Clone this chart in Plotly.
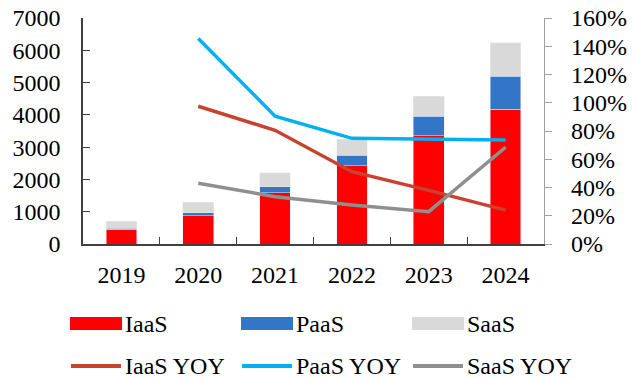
import plotly.graph_objects as go

years = ["2019", "2020", "2021", "2022", "2023", "2024"]
iaas = [450, 870, 1590, 2425, 3350, 4180]
paas = [40, 100, 185, 320, 600, 1020]
saas = [220, 330, 425, 495, 620, 1030]
iaas_yoy = [None, 0.975, 0.805, 0.512, 0.38, 0.24]
paas_yoy = [None, 1.455, 0.905, 0.748, 0.745, 0.736]
saas_yoy = [None, 0.43, 0.335, 0.276, 0.229, 0.685]

bar_names = ["IaaS", "PaaS", "SaaS"]
line_names = ["IaaS YOY", "PaaS YOY", "SaaS YOY"]
bar_colors = ["#FF0000", "#3375C6", "#D9D9D9"]
line_colors = ["#C8432F", "#00B0F0", "#8F8F8F"]

FONT = "Liberation Serif"
FS = 24
W, H = 632, 378
L, R, T, B = 83, 544, 18, 244  # plot area in pixels

fig = go.Figure()
for name, vals, col in zip(bar_names, [iaas, paas, saas], bar_colors):
    fig.add_trace(go.Bar(x=years, y=vals, name=name, marker_color=col,
                         width=0.4, showlegend=False))
for name, vals, col in zip(line_names, [iaas_yoy, paas_yoy, saas_yoy], line_colors):
    fig.add_trace(go.Scatter(x=years, y=vals, name=name, mode="lines",
                             line=dict(color=col, width=3.5), yaxis="y2",
                             showlegend=False))


def px_x(px):
    return (px - L) / (R - L)


def px_y(py):
    return (B - py) / (B - T)


# legend drawn as swatches + labels below the plot
col_x = [70, 241, 412]
sw_w = 52
row1, row2 = 323.5, 365.5
shapes, annos = [], []
for i in range(3):
    x0 = col_x[i]
    shapes.append(dict(type="rect", xref="paper", yref="paper",
                       x0=px_x(x0), x1=px_x(x0 + sw_w),
                       y0=px_y(row1 + 6.5), y1=px_y(row1 - 6.5),
                       fillcolor=bar_colors[i], line=dict(width=0)))
    shapes.append(dict(type="line", xref="paper", yref="paper",
                       x0=px_x(x0 + 1), x1=px_x(x0 + sw_w - 1),
                       y0=px_y(row2 + 0.5), y1=px_y(row2 + 0.5),
                       line=dict(color=line_colors[i], width=4)))
    for text, yy in ((bar_names[i], row1), (line_names[i], row2)):
        annos.append(dict(xref="paper", yref="paper", x=px_x(x0 + sw_w + 2),
                          y=px_y(yy), text=text, showarrow=False,
                          xanchor="left", yanchor="middle", height=22,
                          valign="middle", borderpad=0,
                          font=dict(family=FONT, size=FS, color="#000")))

fig.update_layout(
    width=W, height=H,
    margin=dict(l=L, r=W - R, t=T, b=H - B),
    barmode="stack",
    plot_bgcolor="white", paper_bgcolor="white",
    font=dict(family=FONT, size=FS, color="#000"),
    shapes=shapes, annotations=annos,
    xaxis=dict(type="category", showline=True, linecolor="#404040", linewidth=1.5,
               ticks="inside", ticklen=7, tickcolor="#404040", tickson="boundaries",
               showgrid=False, ticklabelstandoff=8, automargin=False,
               tickfont=dict(family=FONT, size=FS, color="#000")),
    yaxis=dict(range=[0, 7000], dtick=1000, showline=True, linecolor="#404040",
               linewidth=1.5, ticks="inside", ticklen=7, tickcolor="#404040",
               showgrid=False, zeroline=False, ticklabelstandoff=16, automargin=False,
               tickfont=dict(family=FONT, size=FS, color="#000")),
    yaxis2=dict(range=[0, 1.6], dtick=0.2, tickformat=".0%", overlaying="y",
                side="right", showline=True, linecolor="#A0A0A0", linewidth=1.2,
                ticks="outside", ticklen=7, tickcolor="#A0A0A0", showgrid=False,
                zeroline=False, ticklabelstandoff=14, automargin=False,
                tickfont=dict(family=FONT, size=FS, color="#000")),
)

fig.write_html("out.html")
